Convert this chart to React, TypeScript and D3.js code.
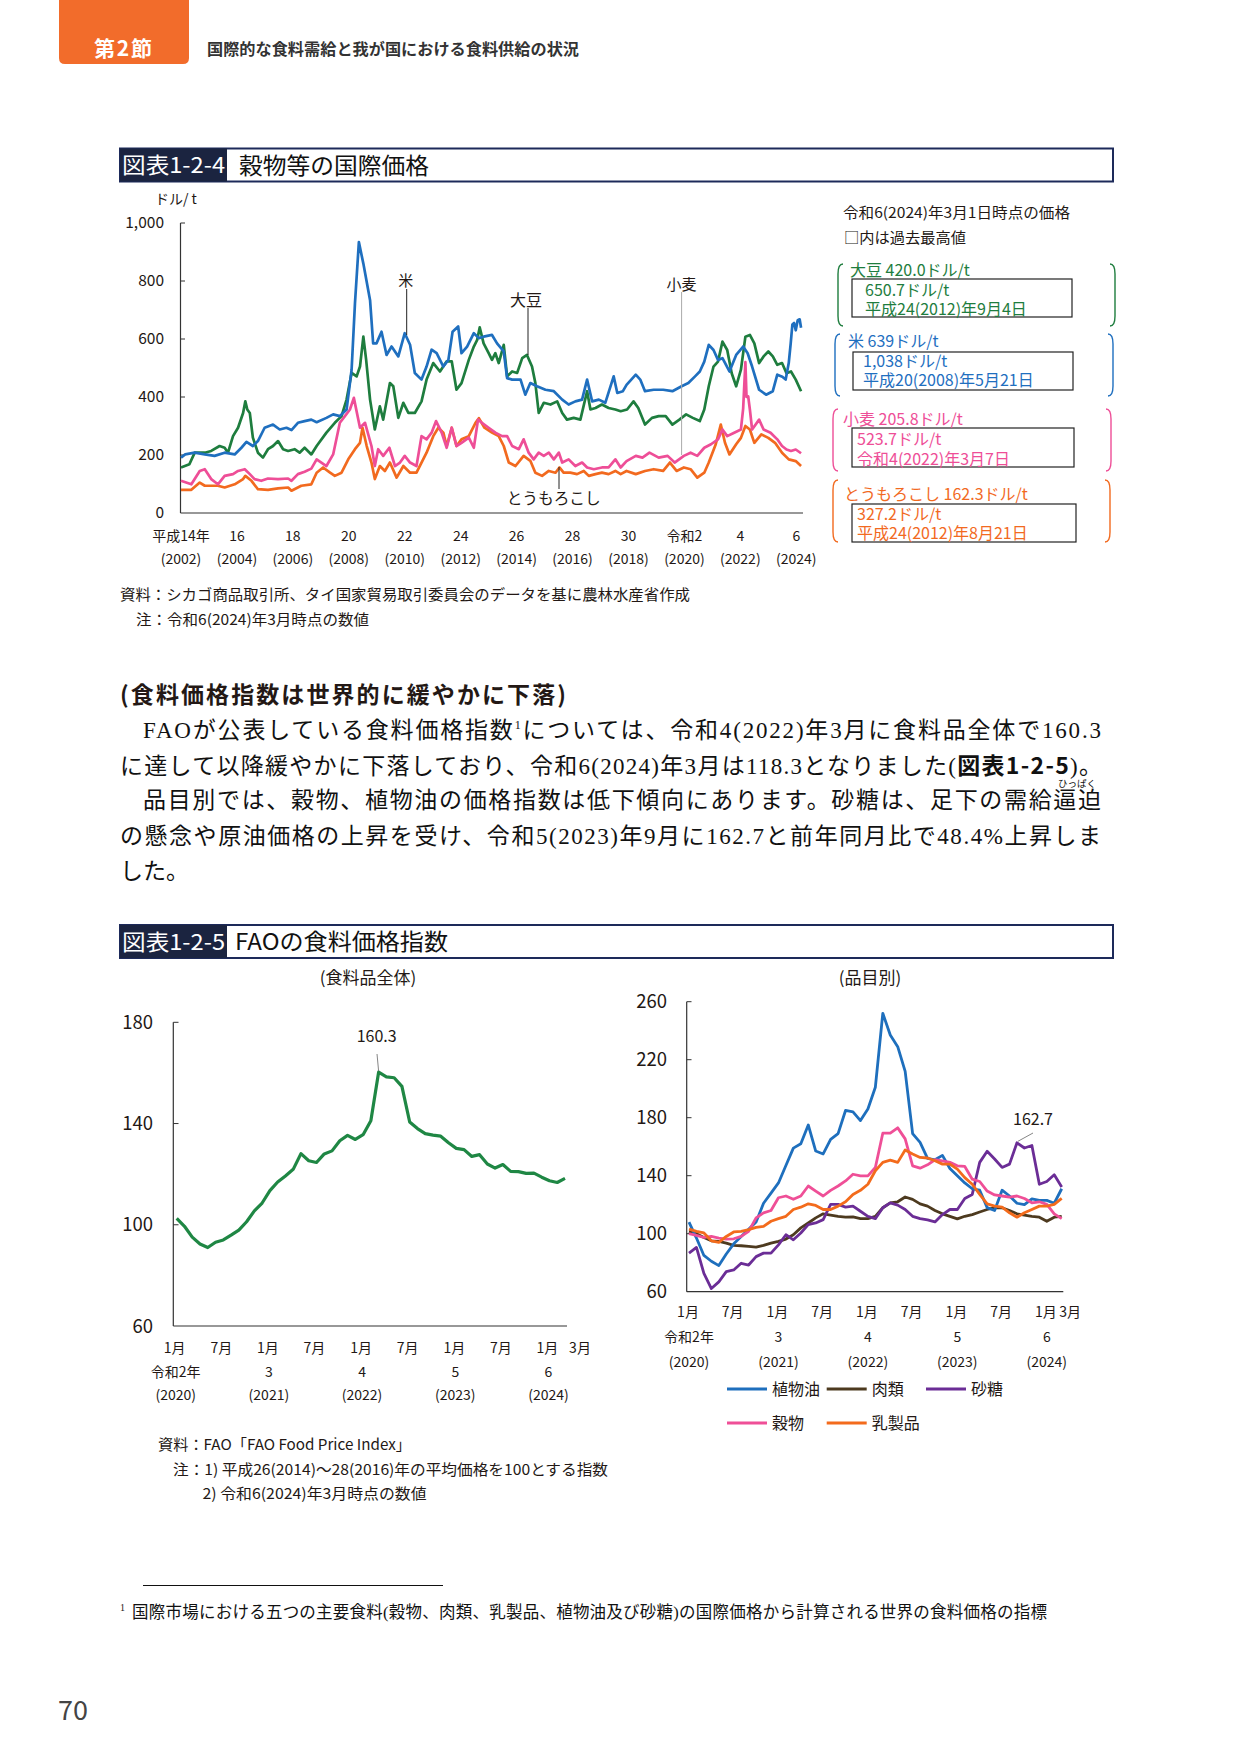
import React from 'react';
import * as d3 from 'd3';

// ===== 図表1-2-4 data: [year (decimal), USD/t] =====
const riceSeries: [number, number][] = [[2002.0,191],[2002.15,202],[2002.49,208],[2002.85,202],[2003.2,197],[2003.56,208],[2003.92,202],[2004.16,225],[2004.34,245],[2004.57,231],[2004.75,248],[2004.99,294],[2005.29,305],[2005.53,288],[2005.77,294],[2005.95,286],[2006.18,311],[2006.42,317],[2006.66,322],[2006.85,313],[2007.2,328],[2007.44,340],[2007.68,334],[2007.92,357],[2008.1,494],[2008.22,723],[2008.36,934],[2008.52,860],[2008.76,734],[2008.87,585],[2008.99,585],[2009.17,625],[2009.35,545],[2009.53,574],[2009.77,540],[2010.0,620],[2010.19,580],[2010.36,483],[2010.6,460],[2010.78,505],[2010.96,563],[2011.14,551],[2011.38,505],[2011.56,528],[2011.71,625],[2011.91,643],[2012.03,551],[2012.23,574],[2012.47,620],[2012.65,603],[2012.82,608],[2013.12,614],[2013.3,585],[2013.54,557],[2013.66,465],[2013.84,460],[2014.14,460],[2014.31,408],[2014.49,448],[2014.73,437],[2015.03,425],[2015.33,420],[2015.63,391],[2015.86,374],[2016.1,385],[2016.34,391],[2016.52,460],[2016.7,385],[2016.94,391],[2017.17,380],[2017.47,471],[2017.6,414],[2017.8,420],[2017.93,442],[2018.26,477],[2018.42,460],[2018.59,420],[2018.9,425],[2019.24,425],[2019.57,420],[2019.9,437],[2020.14,448],[2020.38,471],[2020.55,488],[2020.71,522],[2020.87,580],[2021.04,562],[2021.2,528],[2021.36,534],[2021.61,488],[2021.85,545],[2022.1,574],[2022.26,551],[2022.42,505],[2022.67,425],[2022.92,408],[2023.16,420],[2023.32,477],[2023.5,470],[2023.62,460],[2023.73,517],[2023.8,585],[2023.86,650],[2023.92,655],[2023.98,630],[2024.05,665],[2024.12,668],[2024.17,639]];

const soySeries: [number, number][] = [[2002.0,157],[2002.3,168],[2002.49,208],[2002.85,208],[2003.08,214],[2003.38,231],[2003.56,225],[2003.68,208],[2003.86,265],[2004.04,294],[2004.22,345],[2004.3,385],[2004.37,357],[2004.46,345],[2004.57,260],[2004.75,208],[2004.93,191],[2005.11,220],[2005.29,231],[2005.47,248],[2005.65,220],[2005.83,214],[2006.06,220],[2006.24,208],[2006.42,225],[2006.66,202],[2006.85,231],[2007.2,277],[2007.5,311],[2007.74,334],[2007.92,391],[2008.1,483],[2008.28,471],[2008.4,505],[2008.52,608],[2008.62,528],[2008.76,391],[2008.93,288],[2009.11,368],[2009.23,322],[2009.47,448],[2009.59,437],[2009.77,328],[2009.95,380],[2010.13,345],[2010.36,345],[2010.6,385],[2010.78,460],[2011.02,517],[2011.26,488],[2011.5,523],[2011.68,523],[2011.85,425],[2012.03,448],[2012.29,528],[2012.47,574],[2012.59,597],[2012.68,640],[2012.82,585],[2013.0,551],[2013.12,528],[2013.24,551],[2013.36,517],[2013.54,580],[2013.66,471],[2013.84,488],[2014.02,483],[2014.2,534],[2014.37,545],[2014.55,505],[2014.67,448],[2014.79,345],[2014.97,380],[2015.21,374],[2015.45,385],[2015.63,345],[2015.8,322],[2016.04,328],[2016.28,322],[2016.52,420],[2016.64,357],[2016.82,362],[2017.05,374],[2017.29,362],[2017.53,357],[2017.72,351],[2017.95,357],[2018.18,385],[2018.35,362],[2018.59,305],[2018.84,328],[2019.08,334],[2019.33,334],[2019.57,305],[2019.82,322],[2020.06,340],[2020.3,328],[2020.55,317],[2020.71,357],[2020.87,437],[2021.04,505],[2021.2,522],[2021.36,591],[2021.53,562],[2021.69,482],[2021.85,437],[2022.02,494],[2022.18,608],[2022.34,614],[2022.5,585],[2022.67,517],[2022.83,540],[2023.0,557],[2023.16,540],[2023.32,511],[2023.49,517],[2023.65,482],[2023.81,488],[2023.98,460],[2024.17,420]];

const wheatSeries: [number, number][] = [[2002.0,111],[2002.37,99],[2002.67,145],[2002.85,151],[2003.08,117],[2003.32,99],[2003.56,128],[2003.86,134],[2004.04,145],[2004.28,151],[2004.46,134],[2004.63,117],[2004.87,111],[2005.11,119],[2005.47,117],[2005.83,119],[2005.95,111],[2006.18,134],[2006.42,142],[2006.66,153],[2006.85,185],[2007.2,162],[2007.44,202],[2007.68,311],[2007.86,334],[2008.04,357],[2008.18,397],[2008.4,294],[2008.58,311],[2008.81,231],[2008.93,162],[2009.05,220],[2009.23,197],[2009.45,225],[2009.65,162],[2009.83,174],[2010.0,197],[2010.19,174],[2010.42,162],[2010.6,265],[2010.78,254],[2010.96,277],[2011.12,317],[2011.32,277],[2011.5,225],[2011.68,294],[2011.85,231],[2012.03,242],[2012.29,260],[2012.47,225],[2012.62,322],[2012.76,311],[2013.0,294],[2013.24,277],[2013.48,265],[2013.66,265],[2013.84,231],[2014.08,220],[2014.25,254],[2014.43,208],[2014.61,185],[2014.79,208],[2014.97,197],[2015.15,208],[2015.33,185],[2015.51,208],[2015.63,174],[2015.86,185],[2016.1,162],[2016.34,174],[2016.52,157],[2016.76,151],[2017.05,157],[2017.29,157],[2017.53,185],[2017.72,157],[2017.93,179],[2018.26,197],[2018.5,191],[2018.75,208],[2019.08,191],[2019.4,197],[2019.65,174],[2019.98,197],[2020.22,208],[2020.46,197],[2020.71,225],[2020.95,237],[2021.2,254],[2021.36,288],[2021.53,265],[2021.78,277],[2022.02,288],[2022.1,360],[2022.18,520],[2022.22,400],[2022.28,402],[2022.34,357],[2022.42,288],[2022.67,322],[2022.83,288],[2023.08,277],[2023.32,254],[2023.49,231],[2023.65,219],[2023.81,214],[2023.98,219],[2024.17,206]];

const cornSeries: [number, number][] = [[2002.0,80],[2002.37,80],[2002.67,105],[2002.85,94],[2003.32,94],[2003.56,88],[2003.92,99],[2004.22,117],[2004.3,128],[2004.52,111],[2004.75,82],[2005.11,80],[2005.47,85],[2005.83,88],[2005.95,77],[2006.3,94],[2006.66,99],[2006.85,139],[2007.08,157],[2007.33,139],[2007.5,128],[2007.74,139],[2007.98,185],[2008.22,220],[2008.4,242],[2008.49,294],[2008.64,231],[2008.81,174],[2008.93,117],[2009.11,162],[2009.29,145],[2009.47,174],[2009.71,122],[2009.95,162],[2010.19,139],[2010.42,139],[2010.6,174],[2010.78,208],[2011.02,265],[2011.2,294],[2011.38,277],[2011.5,231],[2011.68,294],[2011.85,231],[2012.03,254],[2012.29,265],[2012.53,311],[2012.65,327],[2012.85,294],[2013.12,277],[2013.36,265],[2013.54,231],[2013.72,174],[2013.96,162],[2014.25,197],[2014.49,180],[2014.67,139],[2014.91,128],[2015.15,145],[2015.39,139],[2015.53,157],[2015.68,139],[2015.92,139],[2016.16,134],[2016.4,145],[2016.58,128],[2016.82,134],[2017.05,139],[2017.29,134],[2017.53,145],[2017.72,134],[2017.93,145],[2018.26,134],[2018.59,145],[2018.9,151],[2019.24,145],[2019.48,174],[2019.72,145],[2019.98,157],[2020.22,151],[2020.46,122],[2020.71,139],[2020.87,174],[2021.12,237],[2021.3,305],[2021.45,242],[2021.61,202],[2021.85,237],[2022.02,259],[2022.18,300],[2022.34,288],[2022.5,242],[2022.75,271],[2023.0,259],[2023.24,242],[2023.49,208],[2023.73,185],[2023.98,179],[2024.17,162]];

const yearTicks = [2002, 2004, 2006, 2008, 2010, 2012, 2014, 2016, 2018, 2020, 2022, 2024];
const yearLabelsJp = ['平成14年', '16', '18', '20', '22', '24', '26', '28', '30', '令和2', '4', '6'];
const yearLabelsAd = ['(2002)', '(2004)', '(2006)', '(2008)', '(2010)', '(2012)', '(2014)', '(2016)', '(2018)', '(2020)', '(2022)', '(2024)'];
const priceTicks = [0, 200, 400, 600, 800, 1000];

// ===== 図表1-2-5 data: monthly, Jan 2020 .. Mar 2024 =====
const foodIndex = [102.5, 99.4, 95.1, 92.4, 91.0, 93.1, 94.0, 95.9, 97.9, 101.2, 105.5, 108.6,
  113.5, 116.9, 119.3, 121.9, 128.1, 125.3, 124.6, 128.0, 129.2, 133.2, 135.3, 133.7,
  135.6, 141.1, 160.3, 158.4, 158.1, 154.7, 140.6, 138.0, 136.0, 135.4, 135.0, 132.4,
  130.2, 129.7, 127.0, 127.7, 124.0, 122.4, 123.8, 121.1, 121.0, 120.3, 120.4, 118.8,
  117.4, 116.7, 118.3];
const vegOil = [108, 97, 85, 81, 78, 86, 93, 98, 103, 108, 121, 128,
  135, 147, 159, 162, 175, 157, 155, 165, 169, 185, 184, 178,
  186, 201, 252, 237, 229, 212, 169, 163, 152, 151, 154, 145,
  140, 135, 131, 130, 118, 116, 130, 126, 121, 120, 124, 123,
  123, 121, 131];
const meat = [101.6, 100, 97.4, 95.1, 94.7, 93.5, 91.9, 91.7, 91.2, 90.7, 91.9, 93.5,
  94.7, 96.3, 99.3, 104, 107.4, 110.9, 113.7, 112.8, 112, 111.4, 111.6, 110.4,
  110.4, 112, 117.9, 121.3, 122, 125.3, 123.7, 120.6, 119, 116, 113.7, 112,
  110.2, 112, 113.2, 115, 116.7, 117.9, 117.9, 116, 113.7, 112.8, 112, 111.4,
  108.6, 111.4, 112];
const sugar = [86.6, 90.5, 72.6, 62.2, 66.8, 73.8, 75, 79.6, 78.4, 84.2, 86.6, 86.6,
  92.3, 99.3, 95.8, 100.5, 106.3, 107.4, 109.7, 120.2, 120.2, 118.3, 119, 115.5,
  112, 110.4, 117.9, 121.3, 119.7, 116.7, 112, 110.4, 109.5, 108.1, 113.2, 116.7,
  116.7, 124.3, 127.1, 149.2, 156.8, 151.5, 145.7, 148, 162.7, 159.1, 160.8, 134.1,
  136, 140.6, 132.2];
const cereals = [100, 98.9, 97.4, 98.1, 97, 96.3, 96.5, 98.1, 101.6, 110.9, 114.4, 116,
  124.8, 126, 123.7, 126, 132.9, 129.4, 126, 129.9, 132.9, 136.4, 141, 139.9,
  139.9, 145.7, 169.3, 169.3, 173, 165.4, 146.8, 145.2, 147.5, 151, 150.3, 149.2,
  146.8, 146.4, 137.6, 136, 129.4, 126.7, 126, 125.3, 126, 124.3, 121.3, 122,
  120.2, 113.7, 110.4];
const dairy = [103.2, 101.6, 100.5, 95.1, 94, 98.1, 101.2, 101.6, 102.8, 104.4, 105.1, 108.6,
  110.4, 112, 116.7, 118.3, 120.6, 119.5, 116.7, 116.7, 119, 122, 127.1, 129.9,
  134.1, 143.4, 149.2, 150.8, 149.2, 157.7, 155, 152.6, 152.2, 150.3, 148, 148,
  144.5, 138.7, 134.1, 127.1, 120.6, 119, 118.3, 114.4, 111.4, 114.4, 116.7, 119,
  119, 120.2, 124.3];
const monthTickIdx = [0, 6, 12, 18, 24, 30, 36, 42, 48];
const monthTickLabels = ['1月', '7月', '1月', '7月', '1月', '7月', '1月', '7月', '1月'];
const lastMonthLabel = '3月';
const fyIdx = [0, 12, 24, 36, 48];
const fyLabelsJp = ['令和2年', '3', '4', '5', '6'];
const fyLabelsAd = ['(2020)', '(2021)', '(2022)', '(2023)', '(2024)'];
const leftTicks = [60, 100, 140, 180];
const rightTicks = [60, 100, 140, 180, 220, 260];

const SANS = "'Noto Sans CJK JP','Noto Sans',sans-serif";
const SERIF = "'Liberation Serif','Noto Sans CJK JP',serif";
const INK = '#231815';

const C = {
  rice: '#1f6fbf', soy: '#1e7d3e', wheat: '#ee4e97', corn: '#f26a1f',
  food: '#1f8744', veg: '#1e6fbd', meat: '#4d3a1f', sugar: '#6b2d96', cereal: '#ef4f97', dairy: '#f36b1c',
  navy: '#1d2a5a', labelBg: '#1b2440', tab: '#f26c2b',
};

function Txt(p: any) {
  const { x, y, children, size = 14, anchor = 'start', color = INK, weight = 400, family = SANS, len, adj = 'spacingAndGlyphs' } = p;
  return (
    <text x={x} y={y} fontSize={size} textAnchor={anchor} fill={color} fontWeight={weight} fontFamily={family}
      textLength={len} lengthAdjust={len ? adj : undefined}>{children}</text>
  );
}

function bracket(x: number, top: number, bottom: number, dir: number) {
  return `M ${x + dir * 5} ${top} Q ${x} ${top} ${x} ${top + 10} L ${x} ${bottom - 10} Q ${x} ${bottom} ${x + dir * 5} ${bottom}`;
}

export default function App() {
  // ---- chart 1 scales
  const x1 = d3.scaleLinear().domain([2002, 2024]).range([181, 796.3]);
  const y1 = d3.scaleLinear().domain([0, 1000]).range([513, 223]);
  const line1 = d3.line<[number, number]>().x(d => x1(d[0])).y(d => y1(d[1]));

  // ---- chart 2 left
  const xL = d3.scaleLinear().domain([0, 50]).range([176.7, 565]);
  const yL = d3.scaleLinear().domain([60, 180]).range([1326, 1022.3]);
  const lineL = d3.line<number>().x((_, i) => xL(i)).y(d => yL(d));

  // ---- chart 2 right
  const xR = d3.scaleLinear().domain([0, 50]).range([689, 1061.7]);
  const yR = d3.scaleLinear().domain([60, 260]).range([1291.7, 1001.7]);
  const lineR = d3.line<number>().x((_, i) => xR(i)).y(d => yR(d));

  const groups = [
    { color: C.soy, lx: 838, rx: 1115, top: 264, bottom: 326, title: '大豆 420.0ドル/t', tx: 850, ty: 276, box: [852, 279, 220, 38], lx2: 865, l1: '650.7ドル/t', l2: '平成24(2012)年9月4日', y1: 296, y2: 315 },
    { color: C.rice, lx: 835, rx: 1113, top: 334, bottom: 396, title: '米 639ドル/t', tx: 848, ty: 347, box: [853, 352, 220, 38], lx2: 863, l1: '1,038ドル/t', l2: '平成20(2008)年5月21日', y1: 367, y2: 386 },
    { color: C.wheat, lx: 833, rx: 1111, top: 409, bottom: 471, title: '小麦 205.8ドル/t', tx: 843, ty: 425, box: [852, 428, 222, 39], lx2: 857, l1: '523.7ドル/t', l2: '令和4(2022)年3月7日', y1: 445, y2: 465 },
    { color: C.corn, lx: 833, rx: 1110, top: 480, bottom: 542, title: 'とうもろこし 162.3ドル/t', tx: 844, ty: 500, box: [852, 504, 224, 38], lx2: 857, l1: '327.2ドル/t', l2: '平成24(2012)年8月21日', y1: 520, y2: 539 },
  ];

  const rightLegend = [
    { name: '植物油', color: C.veg, x: 727, y: 1389 },
    { name: '肉類', color: C.meat, x: 826.7, y: 1389 },
    { name: '砂糖', color: C.sugar, x: 926, y: 1389 },
    { name: '穀物', color: C.cereal, x: 727, y: 1423 },
    { name: '乳製品', color: C.dairy, x: 826.7, y: 1423 },
  ];

  return (
    <svg width={1241} height={1754} viewBox="0 0 1241 1754" style={{ position: 'absolute', left: 0, top: 0, background: '#fff' }}>
      <rect x={0} y={0} width={1241} height={1754} fill="#fff" />
      {/* page header */}
      <path d="M59 0 H189 V58 Q189 64 183 64 H65 Q59 64 59 58 Z" fill={C.tab} />
      <Txt x={94} y={56} size={21} weight={700} color="#fff" len={58} adj="spacing">第2節</Txt>
      <Txt x={207} y={55} size={15.5} weight={700} color="#333" len={372}>国際的な食料需給と我が国における食料供給の状況</Txt>

      {/* ===== 図表1-2-4 ===== */}
      <rect x={120} y={148.5} width={993} height={33} fill="none" stroke={C.navy} strokeWidth={2} />
      <rect x={120} y={148.5} width={107} height={33} fill={C.labelBg} />
      <Txt x={122} y={173} size={22} color="#fff" len={103}>図表1-2-4</Txt>
      <Txt x={239} y={174} size={23} color="#111" len={190}>穀物等の国際価格</Txt>

      <Txt x={155} y={204} size={14}>ドル/ t</Txt>
      {priceTicks.map(v => (
        <g key={'pt' + v}>
          <Txt x={164} y={y1(v) + 5} size={15.5} anchor="end">{d3.format(',')(v)}</Txt>
          {v > 0 && <line x1={180.5} x2={185} y1={y1(v)} y2={y1(v)} stroke="#333" strokeWidth={1} />}
        </g>
      ))}
      <line x1={180.5} x2={180.5} y1={y1(1000)} y2={y1(0)} stroke="#333" strokeWidth={1.2} />
      <line x1={180.5} x2={803} y1={y1(0)} y2={y1(0)} stroke="#333" strokeWidth={1.2} />
      {yearTicks.map((t, i) => (
        <g key={'yt' + t}>
          <Txt x={x1(t)} y={541} size={14} anchor="middle">{yearLabelsJp[i]}</Txt>
          <Txt x={x1(t)} y={564} size={14} anchor="middle">{yearLabelsAd[i]}</Txt>
        </g>
      ))}

      <path d={line1(cornSeries) || ''} fill="none" stroke={C.corn} strokeWidth={2.7} strokeLinejoin="round" />
      <path d={line1(wheatSeries) || ''} fill="none" stroke={C.wheat} strokeWidth={2.7} strokeLinejoin="round" />
      <path d={line1(soySeries) || ''} fill="none" stroke={C.soy} strokeWidth={2.7} strokeLinejoin="round" />
      <path d={line1(riceSeries) || ''} fill="none" stroke={C.rice} strokeWidth={2.7} strokeLinejoin="round" />

      {/* annotations */}
      <line x1={406.7} x2={406.7} y1={289} y2={335} stroke="#222" strokeWidth={1} />
      <Txt x={405.7} y={286} size={15} anchor="middle">米</Txt>
      <line x1={528} x2={528} y1={308} y2={355} stroke="#222" strokeWidth={1} />
      <Txt x={526} y={306} size={16} anchor="middle">大豆</Txt>
      <line x1={681.6} x2={681.6} y1={292} y2={455} stroke="#aaa" strokeWidth={1} />
      <Txt x={681.6} y={290} size={15} anchor="middle">小麦</Txt>
      <line x1={559} x2={559} y1={467} y2={489} stroke="#222" strokeWidth={1} />
      <Txt x={553.7} y={504} size={15.5} anchor="middle" len={94}>とうもろこし</Txt>

      {/* right-hand legend */}
      <Txt x={843} y={218} size={14.5} len={227}>令和6(2024)年3月1日時点の価格</Txt>
      <Txt x={844} y={243} size={14.5} len={122}>□内は過去最高値</Txt>
      {groups.map((g, i) => (
        <g key={'grp' + i}>
          <path d={bracket(g.lx, g.top, g.bottom, 1)} fill="none" stroke={g.color} strokeWidth={1.4} />
          <path d={bracket(g.rx, g.top, g.bottom, -1)} fill="none" stroke={g.color} strokeWidth={1.4} />
          <rect x={g.box[0]} y={g.box[1]} width={g.box[2]} height={g.box[3]} fill="none" stroke="#222" strokeWidth={1.2} />
          <Txt x={g.tx} y={g.ty} size={16} color={g.color}>{g.title}</Txt>
          <Txt x={g.lx2} y={g.y1} size={16} color={g.color}>{g.l1}</Txt>
          <Txt x={g.lx2} y={g.y2} size={16} color={g.color}>{g.l2}</Txt>
        </g>
      ))}

      {/* notes */}
      <Txt x={120} y={600} size={15} len={570}>資料：シカゴ商品取引所、タイ国家貿易取引委員会のデータを基に農林水産省作成</Txt>
      <Txt x={136} y={625} size={15} len={233}>注：令和6(2024)年3月時点の数値</Txt>

      {/* ===== body text ===== */}
      <Txt x={120} y={703} size={23} weight={700} len={446} adj="spacing">(食料価格指数は世界的に緩やかに下落)</Txt>
      <text x={143} y={738} fontSize={23} fontFamily={SERIF} fill="#111" textLength={958} lengthAdjust="spacing">
        FAOが公表している食料価格指数<tspan fontSize={12} dy={-9}>1</tspan><tspan dy={9}>については、令和4(2022)年3月に食料品全体で160.3</tspan>
      </text>
      <text x={120} y={774} fontSize={23} fontFamily={SERIF} fill="#111" textLength={982} lengthAdjust="spacing">
        に達して以降緩やかに下落しており、令和6(2024)年3月は118.3となりました(<tspan fontFamily={SANS} fontWeight={700}>図表1-2-5</tspan>)。
      </text>
      <Txt x={1077} y={787} size={9.5} anchor="middle" family={SERIF} color="#111">ひっぱく</Txt>
      <text x={143} y={808} fontSize={23} fontFamily={SERIF} fill="#111" textLength={958} lengthAdjust="spacing">
        品目別では、穀物、植物油の価格指数は低下傾向にあります。砂糖は、足下の需給逼迫
      </text>
      <text x={120} y={844} fontSize={23} fontFamily={SERIF} fill="#111" textLength={981} lengthAdjust="spacing">
        の懸念や原油価格の上昇を受け、令和5(2023)年9月に162.7と前年同月比で48.4%上昇しま
      </text>
      <text x={120} y={879} fontSize={23} fontFamily={SERIF} fill="#111">した。</text>

      {/* ===== 図表1-2-5 ===== */}
      <rect x={120} y={925} width={993} height={33} fill="none" stroke={C.navy} strokeWidth={2} />
      <rect x={120} y={925} width={107} height={33} fill={C.labelBg} />
      <Txt x={122} y={949.5} size={22} color="#fff" len={103}>図表1-2-5</Txt>
      <Txt x={235} y={950} size={23} color="#111" len={213}>FAOの食料価格指数</Txt>

      {/* left chart */}
      <Txt x={368} y={984} size={17} anchor="middle">(食料品全体)</Txt>
      <line x1={173.3} x2={173.3} y1={yL(180)} y2={yL(60)} stroke="#333" strokeWidth={1.2} />
      <line x1={173.3} x2={567} y1={yL(60)} y2={yL(60)} stroke="#333" strokeWidth={1.2} />
      {leftTicks.map(v => (
        <g key={'lt' + v}>
          <Txt x={153} y={yL(v) + 6.5} size={18.5} anchor="end">{v}</Txt>
          {v > 60 && <line x1={173.3} x2={178.5} y1={yL(v)} y2={yL(v)} stroke="#333" strokeWidth={1} />}
        </g>
      ))}
      {monthTickIdx.map((m, i) => (
        <Txt key={'lm' + i} x={xL(m) - 2} y={1353} size={14} anchor="middle">{monthTickLabels[i]}</Txt>
      ))}
      <Txt x={xL(50) + 15} y={1353} size={14} anchor="middle">{lastMonthLabel}</Txt>
      {fyIdx.map((m, i) => (
        <g key={'lf' + i}>
          <Txt x={xL(m) - 1} y={1377} size={14} anchor="middle">{fyLabelsJp[i]}</Txt>
          <Txt x={xL(m) - 1} y={1400} size={14} anchor="middle">{fyLabelsAd[i]}</Txt>
        </g>
      ))}
      <path d={lineL(foodIndex) || ''} fill="none" stroke={C.food} strokeWidth={3.2} strokeLinejoin="round" />
      <line x1={xL(26) - 1.6} y1={1054} x2={xL(26)} y2={yL(160.3) - 1} stroke="#666" strokeWidth={0.8} />
      <Txt x={376.7} y={1042} size={16} anchor="middle">160.3</Txt>

      {/* right chart */}
      <Txt x={870} y={984} size={17} anchor="middle">(品目別)</Txt>
      <line x1={686.7} x2={686.7} y1={yR(260)} y2={yR(60)} stroke="#333" strokeWidth={1.2} />
      <line x1={686.7} x2={1063.3} y1={yR(60)} y2={yR(60)} stroke="#333" strokeWidth={1.2} />
      {rightTicks.map(v => (
        <g key={'rt' + v}>
          <Txt x={667} y={yR(v) + 6.5} size={18.5} anchor="end">{v}</Txt>
          {v > 60 && <line x1={686.7} x2={691.5} y1={yR(v)} y2={yR(v)} stroke="#333" strokeWidth={1} />}
        </g>
      ))}
      {monthTickIdx.map((m, i) => (
        <Txt key={'rm' + i} x={xR(m) - 1} y={1317} size={14} anchor="middle">{monthTickLabels[i]}</Txt>
      ))}
      <Txt x={xR(50) + 8.5} y={1317} size={14} anchor="middle">{lastMonthLabel}</Txt>
      {fyIdx.map((m, i) => (
        <g key={'rf' + i}>
          <Txt x={xR(m)} y={1342} size={14} anchor="middle">{fyLabelsJp[i]}</Txt>
          <Txt x={xR(m)} y={1367} size={14} anchor="middle">{fyLabelsAd[i]}</Txt>
        </g>
      ))}
      <path d={lineR(meat) || ''} fill="none" stroke={C.meat} strokeWidth={2.8} strokeLinejoin="round" />
      <path d={lineR(sugar) || ''} fill="none" stroke={C.sugar} strokeWidth={2.8} strokeLinejoin="round" />
      <path d={lineR(vegOil) || ''} fill="none" stroke={C.veg} strokeWidth={2.8} strokeLinejoin="round" />
      <path d={lineR(cereals) || ''} fill="none" stroke={C.cereal} strokeWidth={2.8} strokeLinejoin="round" />
      <path d={lineR(dairy) || ''} fill="none" stroke={C.dairy} strokeWidth={2.8} strokeLinejoin="round" />
      <line x1={1033} y1={1133} x2={xR(44) + 1} y2={yR(162.7) - 1.5} stroke="#666" strokeWidth={0.8} />
      <Txt x={1033} y={1125} size={16} anchor="middle">162.7</Txt>

      {rightLegend.map(l => (
        <g key={'lg' + l.name}>
          <line x1={l.x} x2={l.x + 40} y1={l.y} y2={l.y} stroke={l.color} strokeWidth={3} />
          <Txt x={l.x + 45} y={l.y + 6} size={16}>{l.name}</Txt>
        </g>
      ))}

      {/* notes 2 */}
      <Txt x={158} y={1450} size={15} len={253}>資料：FAO「FAO Food Price Index」</Txt>
      <Txt x={173} y={1475} size={15} len={435}>注：1) 平成26(2014)～28(2016)年の平均価格を100とする指数</Txt>
      <Txt x={202.5} y={1499} size={15} len={224}>2) 令和6(2024)年3月時点の数値</Txt>

      {/* footnote */}
      <line x1={143} x2={443} y1={1585.5} y2={1585.5} stroke="#111" strokeWidth={1.2} />
      <Txt x={120} y={1611} size={10} family={SERIF}>1</Txt>
      <Txt x={132} y={1618} size={16.5} family={SERIF} color="#111" len={915} adj="spacing">国際市場における五つの主要食料(穀物、肉類、乳製品、植物油及び砂糖)の国際価格から計算される世界の食料価格の指標</Txt>

      <Txt x={58} y={1720} size={27} color="#444">70</Txt>
    </svg>
  );
}
